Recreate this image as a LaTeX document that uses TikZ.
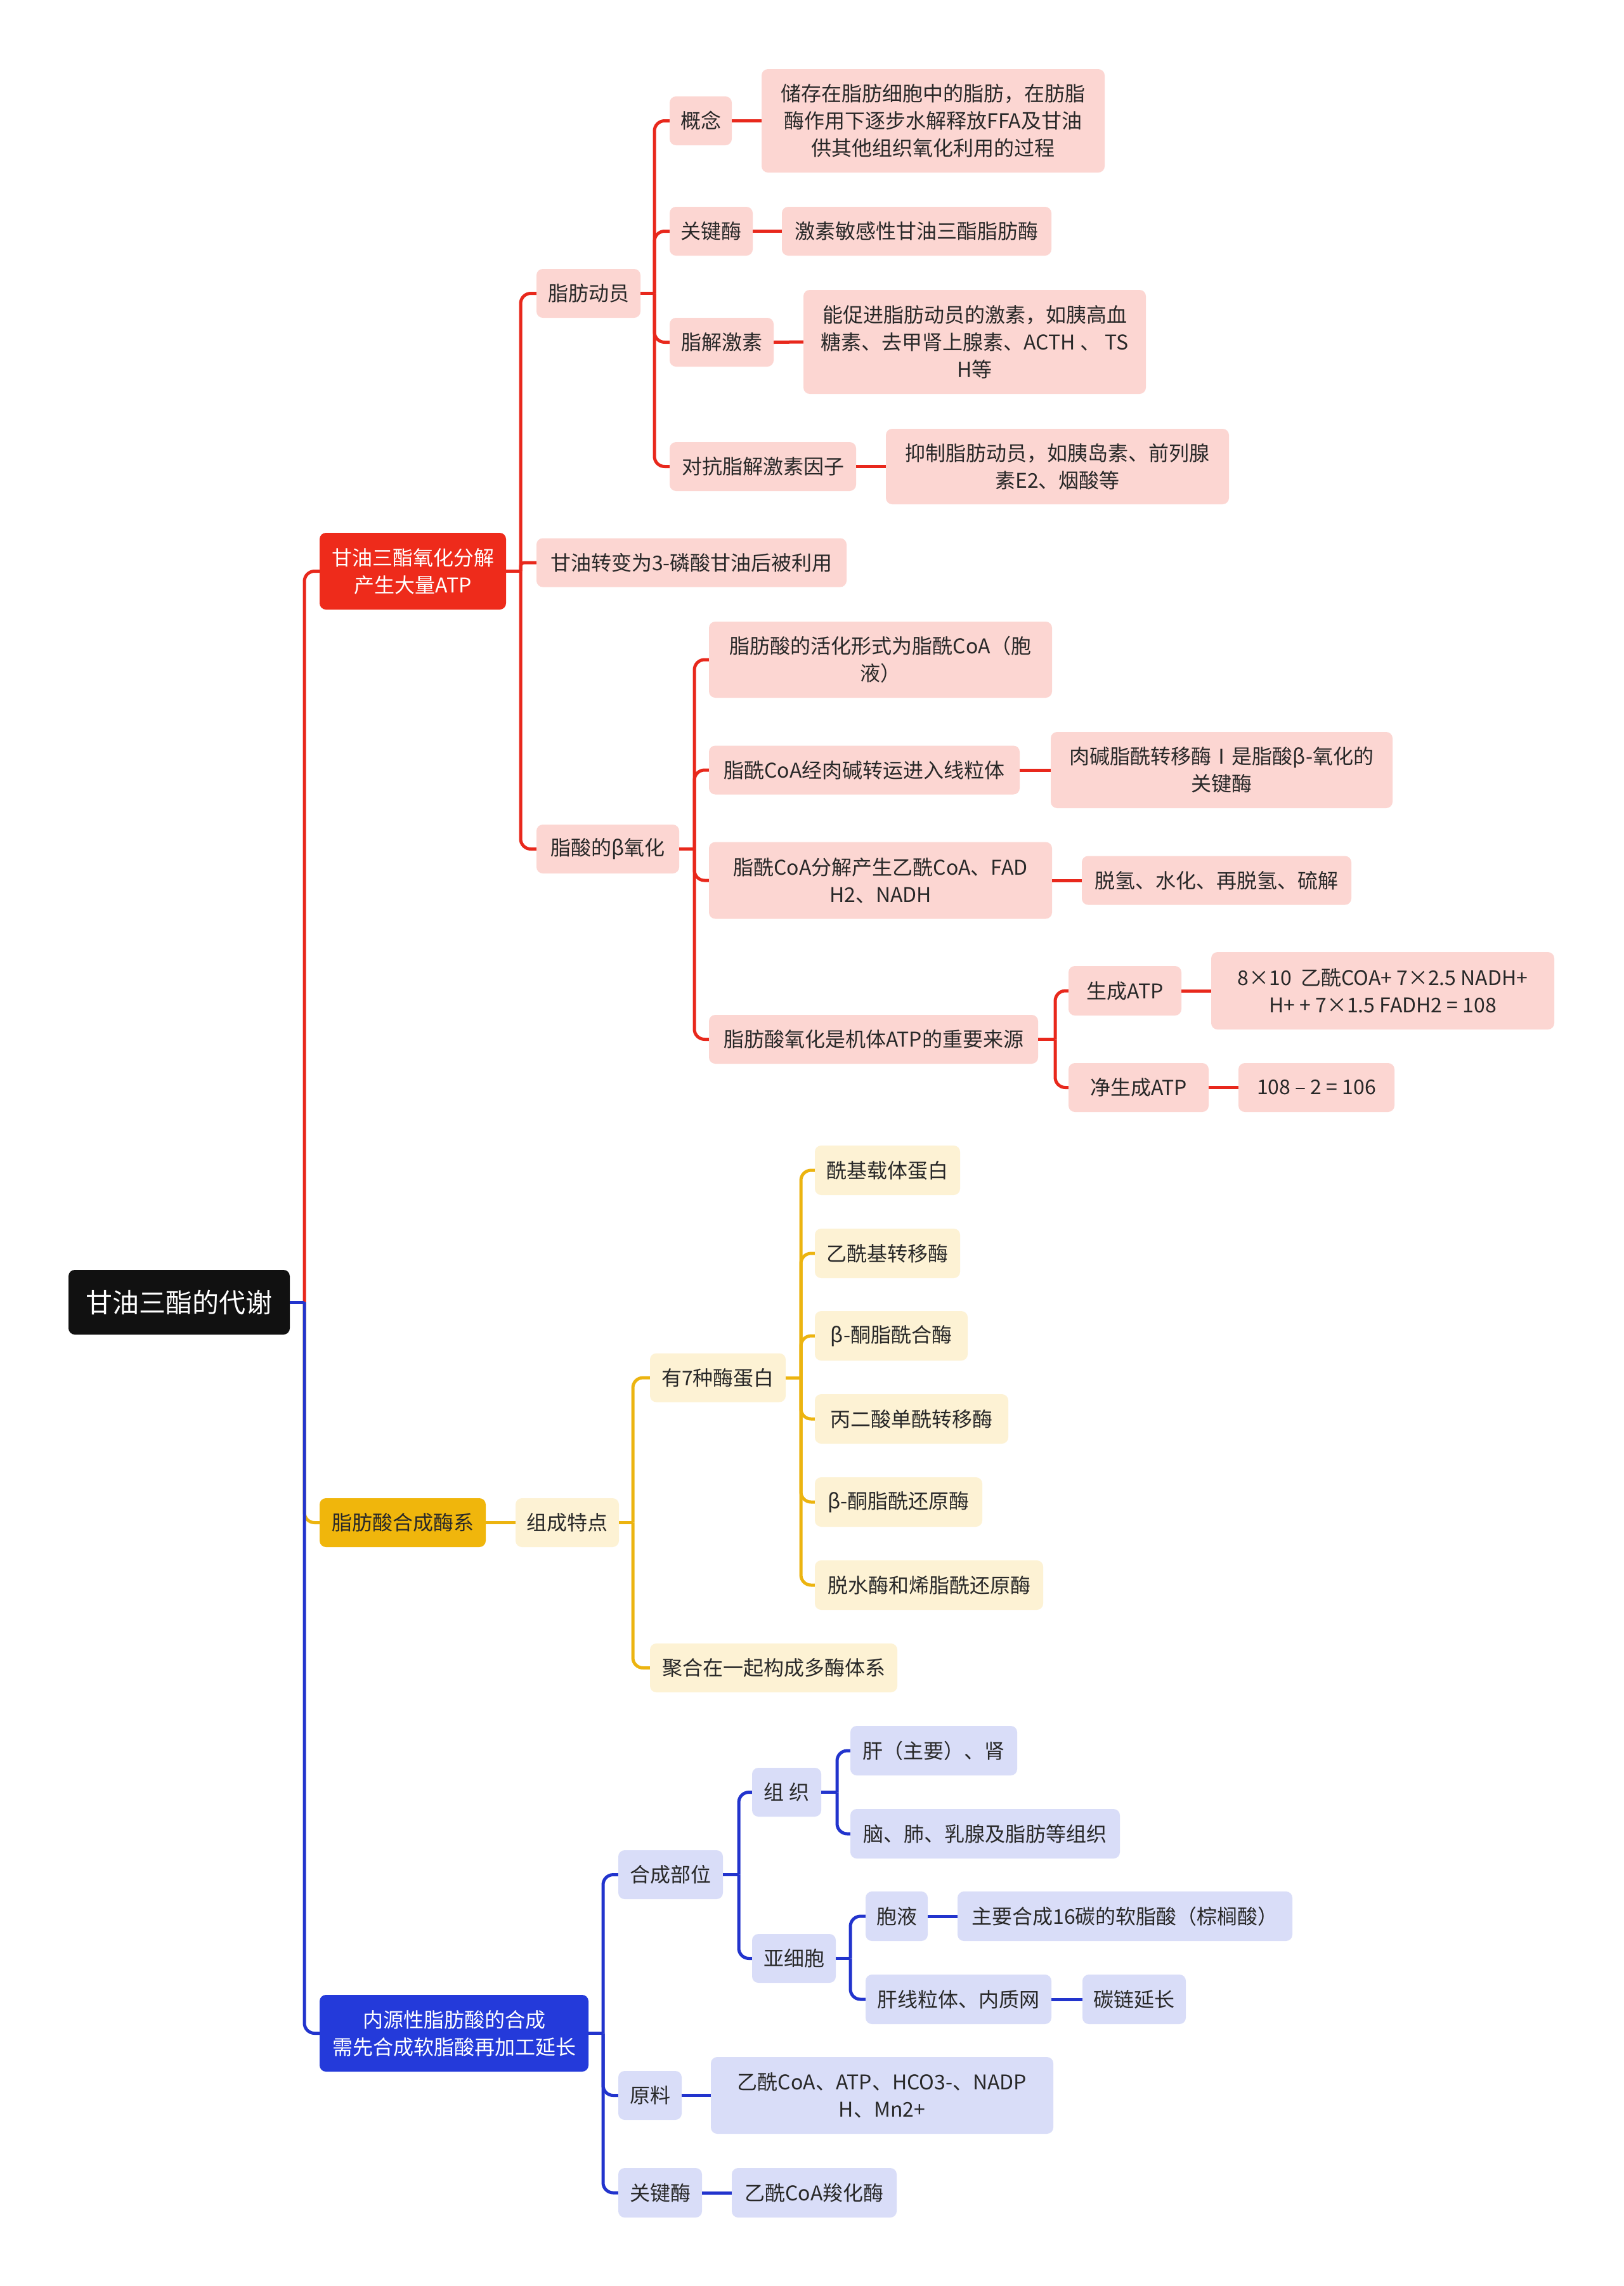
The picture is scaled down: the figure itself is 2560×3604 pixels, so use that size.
\documentclass[tikz,border=0pt]{standalone}
\usepackage{fontspec}
\setmainfont{Noto Sans CJK SC}
\newcommand\fsN{\fontsize{32}{43}\selectfont}
\newcommand\fsR{\fontsize{42}{50}\selectfont}
\definecolor{redM}{RGB}{238,43,27}
\definecolor{redL}{RGB}{252,214,210}
\definecolor{redLn}{RGB}{232,40,28}
\definecolor{yelM}{RGB}{240,182,12}
\definecolor{yelL}{RGB}{253,242,212}
\definecolor{yelLn}{RGB}{236,180,16}
\definecolor{bluM}{RGB}{36,58,218}
\definecolor{bluL}{RGB}{217,221,248}
\definecolor{bluLn}{RGB}{34,52,205}
\definecolor{txt}{RGB}{40,40,40}
\definecolor{rootF}{RGB}{17,17,17}
\begin{document}
\begin{tikzpicture}[x=1pt,y=-1pt,
  box/.style={rounded corners=10pt, align=center, inner sep=2pt, text=txt, font=\fsN},
  sz/.style 2 args={minimum width=#1pt, minimum height=#2pt},
  rS/.style={box, fill=redL}, yS/.style={box, fill=yelL}, bS/.style={box, fill=bluL},
  rln/.style={draw=redLn, line width=5pt, rounded corners=16pt},
  yln/.style={draw=yelLn, line width=5pt, rounded corners=16pt},
  bln/.style={draw=bluLn, line width=5pt, rounded corners=16pt}]
\useasboundingbox (0,0) rectangle (2560,3604);
\fill[white] (0,0) rectangle (2560,3604);

% level 0 / 1
\node[box, fill=rootF, text=white, font=\fsR, sz={349}{102}] (root) at (282.5,2053) {甘油三酯的代谢};
\node[box, fill=redM, text=white, sz={294}{121}] (R) at (651,900.5) {甘油三酯氧化分解\\产生大量ATP};
\node[box, fill=yelM, sz={262}{77}] (Y) at (635,2400.5) {脂肪酸合成酶系};
\node[box, fill=bluM, text=white, sz={424}{121}] (B) at (716,3205.5) {内源性脂肪酸的合成\\需先合成软脂酸再加工延长};

% red branch
\node[rS, sz={164}{77}] (r1) at (928,462.5) {脂肪动员};
\node[rS, sz={489}{77}] (r2) at (1090.5,887) {甘油转变为3-磷酸甘油后被利用};
\node[rS, sz={225}{77}] (r3) at (958.5,1338.5) {脂酸的β氧化};

\node[rS, sz={98}{77}] (a1) at (1105,190.5) {概念};
\node[rS, sz={541}{163}] (a1d) at (1471.5,190.5) {储存在脂肪细胞中的脂肪，在肪脂\\酶作用下逐步水解释放FFA及甘油\\供其他组织氧化利用的过程};
\node[rS, sz={131}{77}] (a2) at (1121.5,364.5) {关键酶};
\node[rS, sz={425}{77}] (a2d) at (1445.5,364.5) {激素敏感性甘油三酯脂肪酶};
\node[rS, sz={164}{77}] (a3) at (1138,539.5) {脂解激素};
\node[rS, sz={540}{164}] (a3d) at (1537,539) {能促进脂肪动员的激素，如胰高血\\糖素、去甲肾上腺素、ACTH 、 TS\\H等};
\node[rS, sz={294}{77}] (a4) at (1203,735.5) {对抗脂解激素因子};
\node[rS, sz={541}{119}] (a4d) at (1667.5,735.5) {抑制脂肪动员，如胰岛素、前列腺\\素E2、烟酸等};

\node[rS, sz={541}{120}] (b1) at (1388.5,1040) {脂肪酸的活化形式为脂酰CoA（胞\\液）};
\node[rS, sz={490}{77}] (b2) at (1363,1214) {脂酰CoA经肉碱转运进入线粒体};
\node[rS, sz={539}{120}] (b2d) at (1926.5,1214) {肉碱脂酰转移酶Ⅰ是脂酸β-氧化的\\关键酶};
\node[rS, sz={541}{121}] (b3) at (1388.5,1388) {脂酰CoA分解产生乙酰CoA、FAD\\H2、NADH};
\node[rS, sz={425}{77}] (b3d) at (1918.5,1388) {脱氢、水化、再脱氢、硫解};
\node[rS, sz={519}{77}] (b4) at (1377.5,1638.5) {脂肪酸氧化是机体ATP的重要来源};
\node[rS, sz={178}{78}] (b4a) at (1774,1562) {生成ATP};
\node[rS, sz={541}{122}] (b4ad) at (2180.5,1562) {8×10~~乙酰COA+ 7×2.5 NADH+\\H+ + 7×1.5 FADH2 = 108};
\node[rS, sz={221}{77}] (b4b) at (1795.5,1714.5) {净生成ATP};
\node[rS, sz={246}{77}] (b4bd) at (2076,1714.5) {108 – 2 = 106};

% yellow branch
\node[yS, sz={163}{77}] (y1) at (894.5,2400.5) {组成特点};
\node[yS, sz={214}{77}] (y2) at (1132,2172) {有7种酶蛋白};
\node[yS, sz={390}{77}] (y3) at (1220,2629.5) {聚合在一起构成多酶体系};
\node[yS, sz={229}{78}] (c1) at (1399.5,1845) {酰基载体蛋白};
\node[yS, sz={229}{78}] (c2) at (1399.5,1976) {乙酰基转移酶};
\node[yS, sz={241}{78}] (c3) at (1405.5,2106) {β-酮脂酰合酶};
\node[yS, sz={305}{78}] (c4) at (1437.5,2237) {丙二酸单酰转移酶};
\node[yS, sz={264}{78}] (c5) at (1417,2368) {β-酮脂酰还原酶};
\node[yS, sz={360}{78}] (c6) at (1465,2499) {脱水酶和烯脂酰还原酶};

% blue branch
\node[bS, sz={165}{77}] (d1) at (1057.5,2955.5) {合成部位};
\node[bS, sz={100}{77}] (d2) at (1025,3303.5) {原料};
\node[bS, sz={540}{121}] (d2d) at (1391,3303.5) {乙酰CoA、ATP、HCO3-、NADP\\H、Mn2+};
\node[bS, sz={132}{78}] (d3) at (1041,3457) {关键酶};
\node[bS, sz={260}{78}] (d3d) at (1284,3457) {乙酰CoA羧化酶};
\node[bS, sz={109}{77}] (e1) at (1240.5,2825.5) {组~织};
\node[bS, sz={132}{77}] (e2) at (1252,3087.5) {亚细胞};
\node[bS, sz={263}{78}] (f1) at (1472.5,2760) {肝（主要）、肾};
\node[bS, sz={425}{78}] (f2) at (1553.5,2891) {脑、肺、乳腺及脂肪等组织};
\node[bS, sz={98}{78}] (g1) at (1414,3021) {胞液};
\node[bS, sz={528}{78}] (g1d) at (1774,3021) {主要合成16碳的软脂酸（棕榈酸）};
\node[bS, sz={293}{78}] (g2) at (1511.5,3152) {肝线粒体、内质网};
\node[bS, sz={163}{78}] (g2d) at (1788.5,3152) {碳链延长};

% junction points
\coordinate (s0) at (480,2053);
\coordinate (sR) at (821,900.5);
\coordinate (sr1) at (1032,462.5);
\coordinate (sr3) at (1095,1338.5);
\coordinate (sb4) at (1664,1638.5);
\coordinate (sy1) at (998,2400.5);
\coordinate (sy2) at (1263,2172);
\coordinate (sB) at (951,3205.5);
\coordinate (sd1) at (1165,2955.5);
\coordinate (se1) at (1320,2825.5);
\coordinate (se2) at (1341,3087.5);

% main connectors
\draw[yln] (s0) |- (Y.west);
\draw[rln] (s0) |- (R.west);
\draw[bln] (s0) |- (B.west);
\draw[bln] (root.east) -- (s0);

% red connectors
\draw[rln] (R.east) -- (sR);
\draw[rln] (sR) |- (r1.west);
\draw[rln, rounded corners=6pt] (sR) |- (r2.west);
\draw[rln] (sR) |- (r3.west);
\draw[rln] (r1.east) -- (sr1);
\foreach \n in {a1,a2,a3,a4} \draw[rln] (sr1) |- (\n.west);
\foreach \p/\q in {a1/a1d,a2/a2d,a3/a3d,a4/a4d,b2/b2d,b3/b3d,b4a/b4ad,b4b/b4bd} \draw[rln] (\p.east) -- (\q.west);
\draw[rln] (r3.east) -- (sr3);
\foreach \n in {b1,b2,b3,b4} \draw[rln] (sr3) |- (\n.west);
\draw[rln] (b4.east) -- (sb4);
\foreach \n in {b4a,b4b} \draw[rln] (sb4) |- (\n.west);

% yellow connectors
\draw[yln] (Y.east) -- (y1.west);
\draw[yln] (y1.east) -- (sy1);
\foreach \n in {y2,y3} \draw[yln] (sy1) |- (\n.west);
\draw[yln] (y2.east) -- (sy2);
\foreach \n in {c1,c2,c3,c4,c5,c6} \draw[yln] (sy2) |- (\n.west);

% blue connectors
\draw[bln] (B.east) -- (sB);
\foreach \n in {d1,d2,d3} \draw[bln] (sB) |- (\n.west);
\foreach \p/\q in {d2/d2d,d3/d3d,g1/g1d,g2/g2d} \draw[bln] (\p.east) -- (\q.west);
\draw[bln] (d1.east) -- (sd1);
\foreach \n in {e1,e2} \draw[bln] (sd1) |- (\n.west);
\draw[bln] (e1.east) -- (se1);
\foreach \n in {f1,f2} \draw[bln] (se1) |- (\n.west);
\draw[bln] (e2.east) -- (se2);
\foreach \n in {g1,g2} \draw[bln] (se2) |- (\n.west);
\end{tikzpicture}
\end{document}
